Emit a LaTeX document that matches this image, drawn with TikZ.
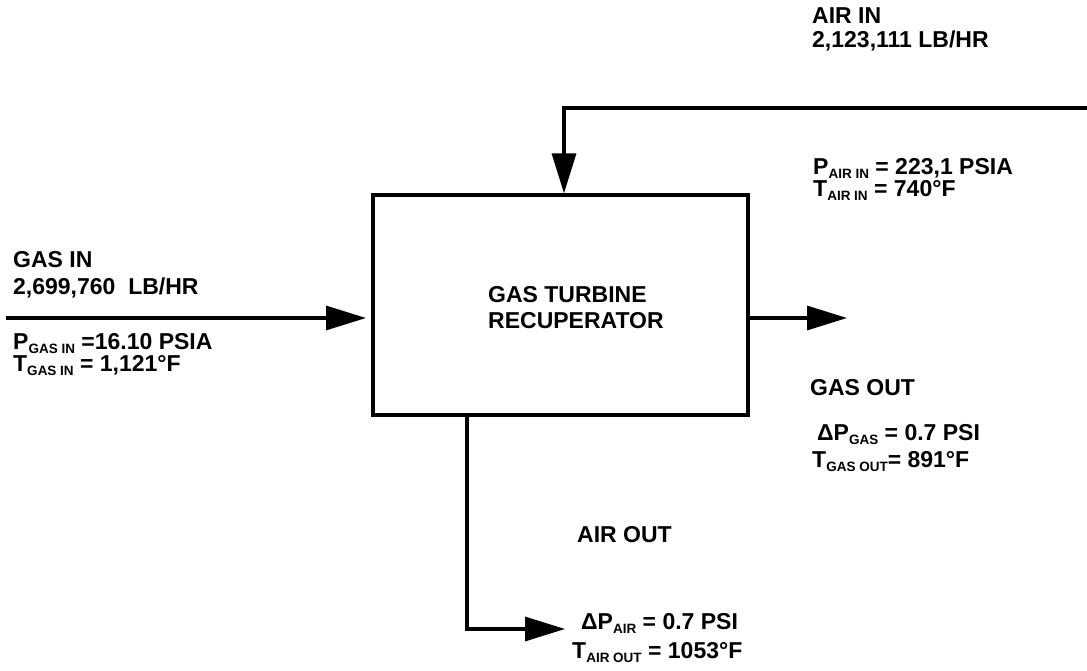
\documentclass[tikz,border=0pt]{standalone}
\usepackage{fontspec}
\setmainfont{Liberation Sans}
\usetikzlibrary{arrows.meta}
\newcommand\lsub[1]{\raisebox{-4pt}{\fontsize{13.5}{14}\selectfont #1}}
\begin{document}
\begin{tikzpicture}[x=1pt,y=-1pt,
  txt/.style={anchor=base west,inner sep=0pt,font=\fontsize{23}{26}\selectfont\bfseries},
  pipe/.style={line width=3.2pt},
  flow/.style={pipe,-{Triangle[length=40pt,width=24pt]}},
  unit/.style={draw,line width=3.2pt,inner sep=0pt,minimum width=375pt,minimum height=220pt}]
\useasboundingbox (0,0) rectangle (1087,671);
% unit
\node[unit] (box) at (560.5,305) {};
\node[txt] (l1) at (488,302) {GAS TURBINE};
\node[txt] (l2) at (488,328) {RECUPERATOR};
% air in
\coordinate (airsrc) at (1087,108);
\coordinate (airbend) at (564,108);
\draw[flow] (airsrc) -- (airbend) -- (airbend |- box.north);
\node[txt] (airin) at (812,24) {AIR IN};
\node[txt] (airflow) at (812,48) {2,123,111 LB/HR};
\node[txt] (pairin) at (813,175) {P\lsub{AIR IN} = 223,1 PSIA};
\node[txt] (tairin) at (813,197) {T\lsub{AIR IN} = 740°F};
% gas in
\coordinate (gassrc) at (6,318);
\coordinate (gasend) at (366,318);
\draw[flow] (gassrc) -- (gasend);
\node[txt] (gasin) at (13,268) {GAS IN};
\node[txt] (gasflow) at (13,294) {2,699,760\ \ LB/HR};
\node[txt] (pgasin) at (13,349) {P\lsub{GAS IN} =16.10 PSIA};
\node[txt] (tgasin) at (13,371) {T\lsub{GAS IN} = 1,121°F};
% gas out
\coordinate (gasout) at (847,318);
\draw[flow] (box.east |- gasout) -- (gasout);
\node[txt] (gasoutl) at (810,395) {GAS OUT};
\node[txt] (dpgas) at (817,440) {ΔP\lsub{GAS} = 0.7 PSI};
\node[txt] (tgasout) at (812,467) {T\lsub{GAS OUT}= 891°F};
% air out
\coordinate (airobend) at (467,629);
\coordinate (airoend) at (565,629);
\draw[flow] (airobend |- box.south) -- (airobend) -- (airoend);
\node[txt] (airoutl) at (577,542) {AIR OUT};
\node[txt] (dpair) at (581,629) {ΔP\lsub{AIR} = 0.7 PSI};
\node[txt] (tairout) at (572,658) {T\lsub{AIR OUT} = 1053°F};
\end{tikzpicture}
\end{document}
